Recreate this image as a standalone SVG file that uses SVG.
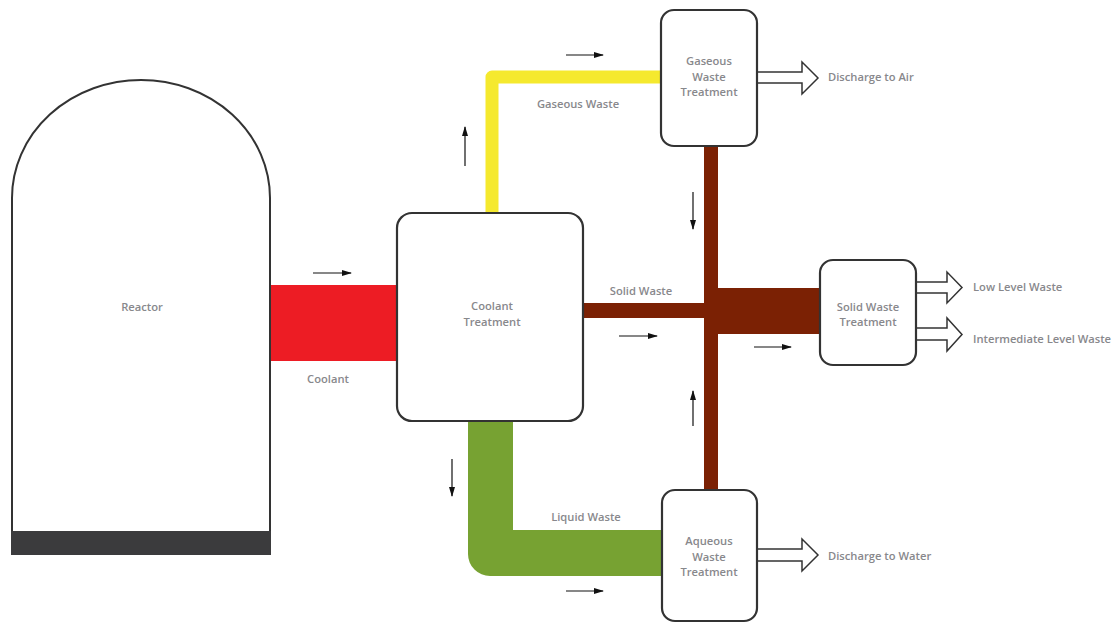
<svg xmlns="http://www.w3.org/2000/svg" width="1119" height="623" viewBox="0 0 1119 623">
<defs>
<marker id="ah" markerWidth="10" markerHeight="8" refX="9" refY="4" orient="auto" markerUnits="userSpaceOnUse">
<path d="M0,1 L10,4 L0,7 Z" fill="#111"/>
</marker>
<style>
.box{fill:#fff;stroke:#333;stroke-width:2.2}
.lbl{font-family:"Open Sans","Noto Sans",sans-serif;font-weight:600;font-size:11.2px;fill:#88888c}
.mid{text-anchor:middle}
.flow{stroke:#111;stroke-width:1.2;fill:none;marker-end:url(#ah)}
.hollow{fill:#fff;stroke:#333;stroke-width:1.5;stroke-linejoin:miter}
.brown{fill:#7b2104}
</style>
</defs>
<rect width="1119" height="623" fill="#fff"/>
<g id="connectors">
<rect x="268" y="285" width="131" height="76" fill="#ed1c24"/>
<path d="M492,214 L492,77 L662,77" fill="none" stroke="#f5e92e" stroke-width="13" stroke-linejoin="round"/>
<path d="M468,419 L513,419 L513,530 L663,530 L663,576 L490,576 A22,22 0 0 1 468,554 Z" fill="#77a232"/>
<rect class="brown" x="704" y="144" width="14" height="348"/>
<rect class="brown" x="582" y="303" width="123" height="15"/>
<rect class="brown" x="717" y="288" width="105" height="46"/>
<path class="hollow" d="M757,72 L802,72 L802,62 L818,78 L802,94 L802,83 L757,83"/>
<path class="hollow" d="M757,549 L802,549 L802,539 L818,555 L802,571 L802,561 L757,561"/>
<path class="hollow" d="M916,282 L947,282 L947,272 L962,287.5 L947,303 L947,293 L916,293"/>
<path class="hollow" d="M916,328 L947,328 L947,318 L962,334.5 L947,351 L947,340 L916,340"/>
<line class="flow" x1="313" y1="273" x2="351" y2="273"/>
<line class="flow" x1="465" y1="166" x2="465" y2="127"/>
<line class="flow" x1="566" y1="55" x2="603" y2="55"/>
<line class="flow" x1="693" y1="192" x2="693" y2="229"/>
<line class="flow" x1="619" y1="336" x2="657" y2="336"/>
<line class="flow" x1="754" y1="347" x2="791" y2="347"/>
<line class="flow" x1="693" y1="426" x2="693" y2="391"/>
<line class="flow" x1="452" y1="459" x2="452" y2="496"/>
<line class="flow" x1="566" y1="591" x2="603" y2="591"/>
<text class="lbl mid" x="328" y="383">Coolant</text>
<text class="lbl mid" x="578" y="108">Gaseous Waste</text>
<text class="lbl mid" x="641" y="295">Solid Waste</text>
<text class="lbl mid" x="586" y="521">Liquid Waste</text>
</g>
<g id="reactor">
<path d="M12,555 L12,198 A129,118 0 0 1 270,198 L270,555" fill="#fff" stroke="#333" stroke-width="2"/>
<rect x="11" y="531" width="260" height="24" fill="#3b3b3d"/>
<text class="lbl mid" x="142" y="311">Reactor</text>
</g>
<g id="coolant-treatment">
<rect class="box" x="397" y="213" width="186" height="208" rx="15"/>
<text class="lbl mid" x="492" y="310">Coolant</text>
<text class="lbl mid" x="492" y="326">Treatment</text>
</g>
<g id="gaseous-waste-treatment">
<rect class="box" x="661" y="10" width="96" height="136" rx="13"/>
<text class="lbl mid" x="709" y="65">Gaseous</text>
<text class="lbl mid" x="709" y="81">Waste</text>
<text class="lbl mid" x="709" y="96">Treatment</text>
</g>
<g id="solid-waste-treatment">
<rect class="box" x="820" y="260" width="96" height="105" rx="13"/>
<text class="lbl mid" x="868" y="311">Solid Waste</text>
<text class="lbl mid" x="868" y="326">Treatment</text>
</g>
<g id="aqueous-waste-treatment">
<rect class="box" x="662" y="490" width="95" height="131" rx="13"/>
<text class="lbl mid" x="709" y="545">Aqueous</text>
<text class="lbl mid" x="709" y="561">Waste</text>
<text class="lbl mid" x="709" y="576">Treatment</text>
</g>
<g id="discharge-air"><text class="lbl" x="828" y="81">Discharge to Air</text></g>
<g id="discharge-water"><text class="lbl" x="828" y="560">Discharge to Water</text></g>
<g id="low-level-waste"><text class="lbl" x="973" y="291">Low Level Waste</text></g>
<g id="intermediate-level-waste"><text class="lbl" x="973" y="343">Intermediate Level Waste</text></g>
</svg>
